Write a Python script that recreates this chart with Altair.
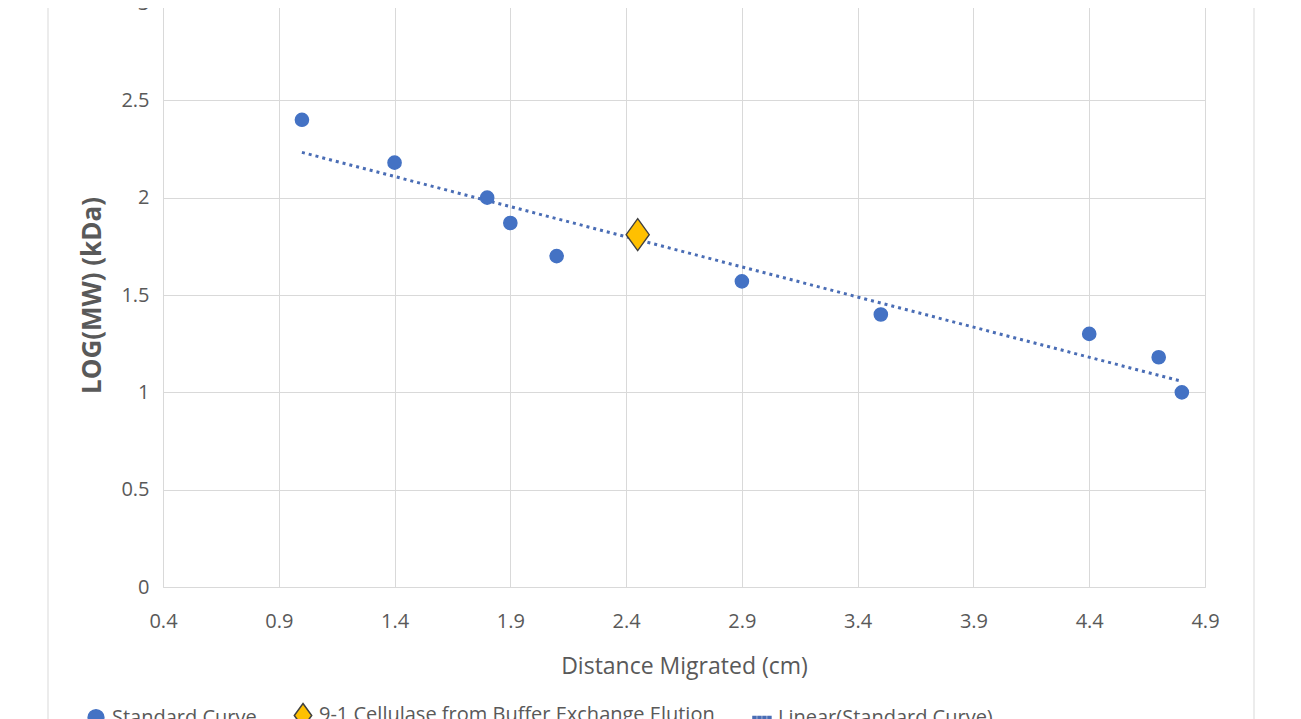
import altair as alt
import pandas as pd

# Standard curve (distance migrated in cm, log10 MW in kDa)
std_x = [1.0, 1.4, 1.8, 1.9, 2.1, 2.9, 3.5, 4.4, 4.7, 4.8]
std_y = [2.40, 2.18, 2.00, 1.87, 1.70, 1.57, 1.40, 1.30, 1.18, 1.00]

# Sample
sample_x = [2.45]
sample_y = [1.81]

series_names = ["Standard Curve", "9-1 Cellulase from Buffer Exchange Elution", "Linear(Standard Curve)"]
x_ticks = [0.4, 0.9, 1.4, 1.9, 2.4, 2.9, 3.4, 3.9, 4.4, 4.9]
y_ticks = [0, 0.5, 1, 1.5, 2, 2.5, 3]

df_std = pd.DataFrame({"x": std_x, "y": std_y, "series": series_names[0]})
df_smp = pd.DataFrame({"x": sample_x, "y": sample_y, "series": series_names[1]})
df_pts = pd.concat([df_std, df_smp], ignore_index=True)

DIAMOND = "M0,-1.52L1.1,0L0,1.52L-1.1,0Z"
DOTS = ("M-1.14,-0.19L-0.76,-0.19L-0.76,0.19L-1.14,0.19Z "
        "M-0.51,-0.19L-0.13,-0.19L-0.13,0.19L-0.51,0.19Z "
        "M0.12,-0.19L0.5,-0.19L0.5,0.19L0.12,0.19Z "
        "M0.75,-0.19L1.13,-0.19L1.13,0.19L0.75,0.19Z")

xscale = alt.Scale(domain=[0.4, 4.9], nice=False, zero=False)
yscale = alt.Scale(domain=[0, 3], nice=False)

xenc = alt.X("x:Q", scale=xscale,
             axis=alt.Axis(values=x_ticks, format=".1f", title="Distance Migrated (cm)",
                           labelPadding=24, titlePadding=24, labelFlush=False))
yenc = alt.Y("y:Q", scale=yscale,
             axis=alt.Axis(values=y_ticks, format="~g", title="LOG(MW) (kDa)",
                           labelPadding=14, titlePadding=15, titleFontWeight="bold",
                           titleFontSize=26, labelFlush=False))

leg = alt.Legend(title=None, orient="none", direction="horizontal", legendX=-77, legendY=702,
                 labelFontSize=20, labelColor="#595959", labelFont="Open Sans", labelLimit=600,
                 labelOffset=6, columnPadding=34, symbolSize=250)

frame = alt.Chart(pd.DataFrame({"a": [0]})).mark_rect(
    fillOpacity=0, stroke="#d9d9d9", strokeWidth=1
).encode(x=alt.value(-115), x2=alt.value(1091), y=alt.value(-40), y2=alt.value(780))

trend = alt.Chart(df_std).transform_regression("x", "y").mark_line(
    color="#4a6db5", strokeWidth=3, strokeDash=[3, 4]
).encode(x=xenc, y=yenc)

points = alt.Chart(df_pts).mark_point(filled=True, opacity=1, strokeWidth=1.4).encode(
    x=xenc,
    y=yenc,
    fill=alt.Fill("series:N", scale=alt.Scale(domain=series_names, range=["#4472C4", "#FFC000", "#4a6db5"]), legend=leg),
    stroke=alt.Stroke("series:N", scale=alt.Scale(domain=series_names, range=["#4472C4", "#404040", "#4a6db5"]), legend=leg),
    shape=alt.Shape("series:N", scale=alt.Scale(domain=series_names, range=["circle", DIAMOND, DOTS]), legend=leg),
    size=alt.Size("series:N", scale=alt.Scale(domain=series_names[:2], range=[175, 441]), legend=None),
)

chart = alt.layer(frame, trend, points).properties(
    width=1042, height=584,
    autosize=alt.AutoSizeParams(type="none"),
    padding={"left": 155, "top": -5, "right": 88, "bottom": 160},
).configure_view(stroke=None).configure_axis(
    labelFont="Open Sans", labelFontSize=20, labelColor="#595959",
    titleFont="Open Sans", titleFontSize=23, titleColor="#595959", titleFontWeight="normal",
    gridColor="#d9d9d9", gridWidth=1, domainColor="#d9d9d9", ticks=False,
)

chart.save("out.html", embed_options={"renderer": "svg", "actions": False})
